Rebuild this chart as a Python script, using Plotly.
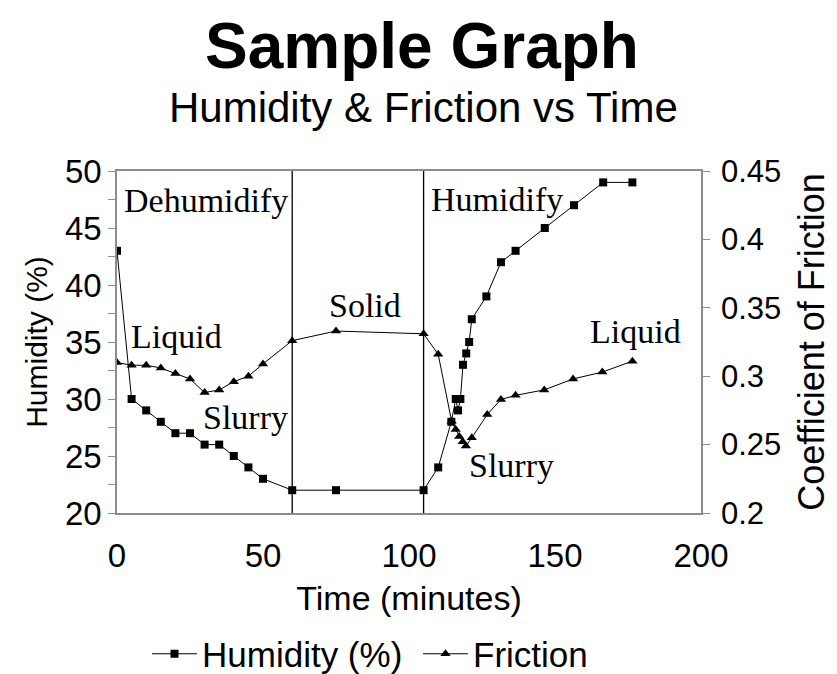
import plotly.graph_objects as go

# ---- data ----
hum_time = [0, 5, 10, 15, 20, 25, 30, 35, 40, 45, 50, 60, 75, 105, 110, 114.5, 116, 116.8, 117.6, 118.5, 119.6, 120.6, 121.5, 126.5, 131.5, 136.5, 146.5, 156.5, 166.5, 176.5]
humidity = [43, 30, 29, 28, 27, 27, 26, 26, 25, 24, 23, 22, 22, 22, 24, 28, 30, 29, 30, 33, 34, 35, 37, 39, 42, 43, 45, 47, 49, 49]

fric_time = [0, 5, 10, 15, 20, 25, 30, 35, 40, 45, 50, 60, 75, 105, 110, 114.6, 116, 117.2, 118.4, 119.5, 121.5, 126.8, 131.5, 136.5, 146.3, 156.2, 166.2, 176.5]
friction = [0.310, 0.308, 0.308, 0.306, 0.302, 0.298, 0.288, 0.290, 0.296, 0.300, 0.309, 0.326, 0.333, 0.331, 0.316, 0.267, 0.261, 0.256, 0.252, 0.249, 0.255, 0.272, 0.283, 0.286, 0.290, 0.298, 0.303, 0.311]

phase_bounds = [60, 105]
x_ticks = [0, 50, 100, 150, 200]

SANS = "Liberation Sans, Arial, sans-serif"
SERIF = "Liberation Serif, Times New Roman, serif"
AXIS_GREY = "#8c8c8c"

# page body has an 8px default margin; the figure is sized to fill the rest
OFF = 8
W, H = 837 - OFF, 674 - OFF
# plot area in screen pixels
L, R, T, B = 117, 701, 171, 513
PW, PH = R - L, B - T

def px_x(p):
    return (p - L) / PW

def px_y(p):
    return (B - p) / PH

fig = go.Figure()
fig.add_trace(go.Scatter(
    x=hum_time, y=humidity, name="Humidity (%)", mode="lines+markers",
    line=dict(color="black", width=1),
    marker=dict(symbol="square", size=8, color="black"),
    yaxis="y"))
fig.add_trace(go.Scatter(
    x=fric_time, y=friction, name="Friction", mode="lines+markers",
    line=dict(color="black", width=1),
    marker=dict(symbol="triangle-up", size=9, color="black"),
    yaxis="y2"))

for b in phase_bounds:
    fig.add_shape(type="line", x0=b, x1=b, y0=0, y1=1, xref="x", yref="paper",
                  line=dict(color="black", width=1.3))

# serif phase labels (data coords on humidity axis)
labels = [
    ("Dehumidify", 30.5, 47.4),
    ("Liquid", 20.3, 35.5),
    ("Slurry", 44.0, 28.4),
    ("Solid", 85.0, 38.2),
    ("Humidify", 130.0, 47.5),
    ("Slurry", 135.0, 24.2),
    ("Liquid", 177.4, 35.9),
]
ann = []
for t, xv, yv in labels:
    ann.append(dict(text=t, x=xv, y=yv, xref="x", yref="y", showarrow=False,
                    xanchor="center", yanchor="middle",
                    font=dict(family=SERIF, size=34, color="black")))

# titles (paper coords)
ann.append(dict(text="<b>Sample Graph</b>", x=px_x(422), y=px_y(46), xref="paper", yref="paper",
                showarrow=False, xanchor="center", yanchor="middle",
                font=dict(family=SANS, size=64, color="black")))
ann.append(dict(text="Humidity & Friction vs Time", x=px_x(423), y=px_y(107), xref="paper", yref="paper",
                showarrow=False, xanchor="center", yanchor="middle",
                font=dict(family=SANS, size=42, color="black")))

fig.update_layout(
    width=W, height=H,
    margin=dict(l=L - OFF, r=837 - R, t=T - OFF, b=674 - B, autoexpand=False),
    paper_bgcolor="white", plot_bgcolor="white",
    showlegend=True,
    legend=dict(orientation="h", x=px_x(147), y=px_y(654),
                xanchor="left", yanchor="middle",
                font=dict(family=SANS, size=35, color="black"),
                itemwidth=45, entrywidth=211, entrywidthmode="pixels", tracegroupgap=0),
    annotations=ann,
    xaxis=dict(range=[0, 200], tickvals=x_ticks, ticks="", showgrid=False, zeroline=False,
               showline=True, linecolor=AXIS_GREY, linewidth=1.5, mirror=True, automargin=False,
               ticklabelstandoff=13,
               tickfont=dict(family=SANS, size=33, color="black"),
               title=dict(text="Time (minutes)", font=dict(family=SANS, size=34, color="black"), standoff=13)),
    yaxis=dict(range=[20, 50], dtick=5, ticks="outside", ticklen=7, tickcolor=AXIS_GREY,
               showgrid=False, zeroline=False, showline=True, linecolor=AXIS_GREY, linewidth=1.5,
               automargin=False,
               minor=dict(dtick=2.5, ticks="outside", ticklen=7, tickcolor=AXIS_GREY),
               tickfont=dict(family=SANS, size=33, color="black"),
               title=dict(text="Humidity (%)", font=dict(family=SANS, size=30, color="black"), standoff=8)),
    yaxis2=dict(range=[0.2, 0.45], dtick=0.05, overlaying="y", side="right", ticks="outside",
                ticklen=7, tickcolor=AXIS_GREY, showgrid=False, zeroline=False, showline=True,
                linecolor=AXIS_GREY, linewidth=1.5, automargin=False, ticklabelstandoff=5,
                tickfont=dict(family=SANS, size=31, color="black"),
                title=dict(text="Coefficient of Friction", font=dict(family=SANS, size=36, color="black"), standoff=19)),
)

fig.write_html("out.html")
